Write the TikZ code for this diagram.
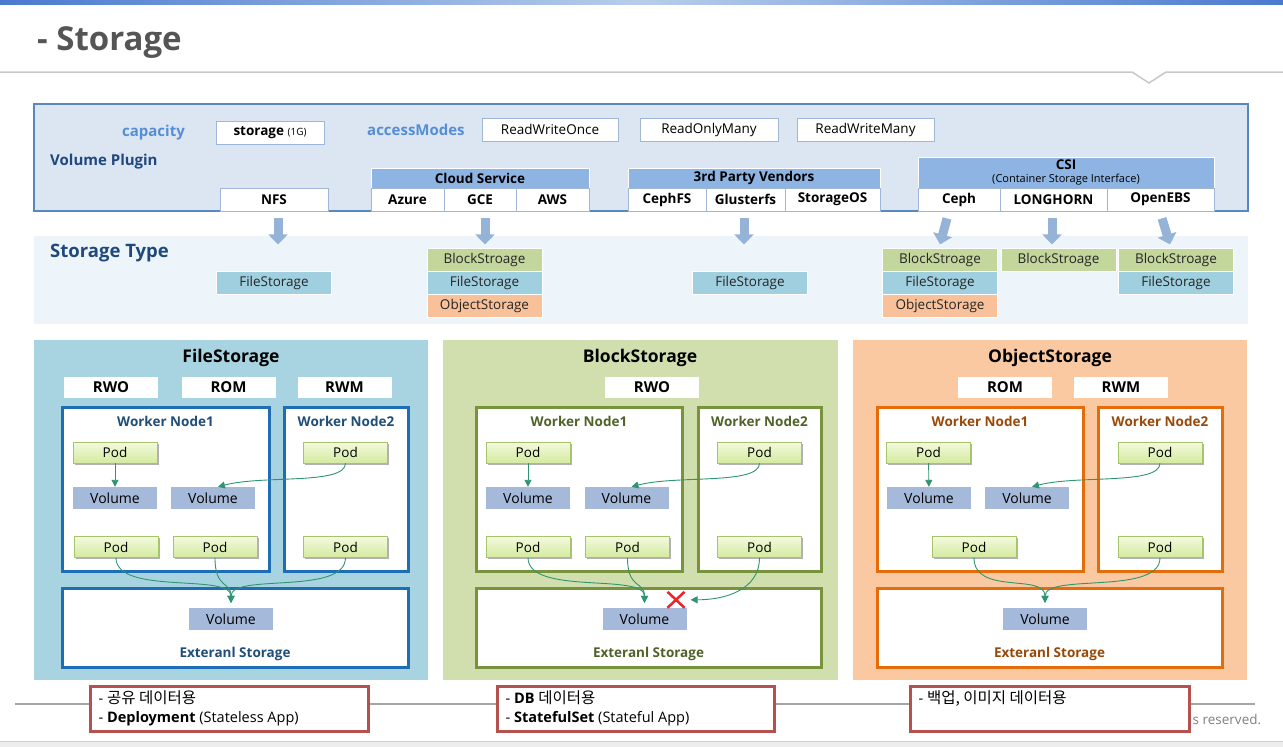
\documentclass[tikz,border=0pt]{standalone}
\usepackage{fontspec}
\setmainfont{Open Sans}
\newfontfamily\krfont{Noto Sans CJK KR}
\usetikzlibrary{arrows.meta,shadows}

\definecolor{barblue}{HTML}{4A7ACF}
\definecolor{barlight}{HTML}{B8CDEB}
\definecolor{titlegray}{HTML}{555555}
\definecolor{rulegray}{HTML}{C8C8C8}
\definecolor{plugfill}{HTML}{DCE6F2}
\definecolor{plugline}{HTML}{5B87C0}
\definecolor{lblblue}{HTML}{558ED5}
\definecolor{dkblue}{HTML}{1F497D}
\definecolor{hdrfill}{HTML}{8EB4E3}
\definecolor{cellline}{HTML}{9FB7D5}
\definecolor{typefill}{HTML}{EEF5FA}
\definecolor{arrowblue}{HTML}{95B3D7}
\definecolor{tgreen}{HTML}{C3D69B}
\definecolor{tblue}{HTML}{A0D0E0}
\definecolor{torange}{HTML}{F9C19A}
\definecolor{filepanel}{HTML}{A8D4E2}
\definecolor{fileline}{HTML}{1F6DB5}
\definecolor{filetext}{HTML}{1F4E79}
\definecolor{blockpanel}{HTML}{D1DFAF}
\definecolor{blockline}{HTML}{77933C}
\definecolor{blocktext}{HTML}{4F6228}
\definecolor{objpanel}{HTML}{FAC9A2}
\definecolor{objline}{HTML}{E46C0A}
\definecolor{objtext}{HTML}{984807}
\definecolor{volfill}{HTML}{A5B9DA}
\definecolor{podtop}{HTML}{F3FADF}
\definecolor{podbot}{HTML}{D4EA9E}
\definecolor{podline}{HTML}{A6C46A}
\definecolor{linkgreen}{HTML}{2F9470}
\definecolor{noteline}{HTML}{B5524F}
\definecolor{footgray}{HTML}{A6A6A6}
\definecolor{foottext}{HTML}{7F7F7F}
\definecolor{footfill}{HTML}{EDEDED}
\definecolor{footline}{HTML}{D0D0D0}
\definecolor{xred}{HTML}{E8262A}

\newcommand\cellfont{\fontsize{13.5}{16}\selectfont}
\newcommand\kr[1]{{\krfont\fontsize{15.5}{19}\selectfont #1}}

\tikzset{
    cell/.style={draw=cellline, fill=white, line width=0.8, inner sep=0pt, minimum height=23, font=\cellfont},
    pcell/.style={cell, font=\cellfont\bfseries},
    hdr/.style={fill=hdrfill, draw=white, line width=0.8, inner sep=0pt, minimum height=20, font=\cellfont\bfseries},
    lbl/.style={inner sep=0pt, font=\fontsize{15}{18}\selectfont\bfseries},
    stbox/.style={draw=white, line width=0.8, inner sep=0pt, minimum width=115, minimum height=23, font=\cellfont, text=black!85},
    bigarrow/.style={draw=arrowblue, line width=9, -{Triangle[width=19pt,length=10pt]}},
    ptitle/.style={inner sep=0pt, font=\fontsize{17.5}{20}\selectfont\bfseries},
    mode/.style={fill=white, inner sep=0pt, minimum width=94, minimum height=21, font=\fontsize{15}{18}\selectfont\bfseries},
    wn/.style={fill=white, line width=3, inner sep=0pt, minimum height=164},
    wt/.style={inner sep=0pt, font=\fontsize{13.5}{16}\selectfont\bfseries},
    pod/.style={draw=podline, top color=podtop, bottom color=podbot, inner sep=0pt, minimum width=84, minimum height=21, font=\cellfont,
        drop shadow={shadow xshift=1.5pt, shadow yshift=-1.5pt, opacity=0.3, fill=black}},
    vol/.style={fill=volfill, inner sep=0pt, minimum width=84, minimum height=22, font=\fontsize{14}{16}\selectfont},
    link/.style={draw=linkgreen, line width=0.9, -{Triangle[length=7pt,width=7pt]}},
    xmark/.style={draw=xred, line width=2.5},
    note/.style={draw=noteline, fill=white, line width=3, inner sep=0pt, minimum height=45},
    notetext/.style={inner sep=0pt, align=left, font=\fontsize{14.5}{19}\selectfont}
}

\begin{document}
\begin{tikzpicture}[x=1pt,y=-1pt]
    \useasboundingbox (0,0) rectangle (1283,747);
    \shade[left color=barblue, right color=barblue, middle color=barlight] (0,0) rectangle (1283,4);
    \node[anchor=base west, inner sep=0pt, font=\fontsize{33}{37}\selectfont\bfseries, text=titlegray] (title) at (37,50) {- Storage};
    \draw[line width=1.5, draw=rulegray] (0,72) -- (1132,72) -- (1149,83) -- (1166,72) -- (1283,72);

    % volume plugin
    \draw[fill=plugfill, draw=plugline, line width=1.2] (34,104) rectangle (1248,211);
    \node[lbl, text=lblblue, anchor=east] (cap) at (185,133) {capacity};
    \node[cell, minimum width=108] (size) at (270,132.5) {\textbf{storage} {\fontsize{10}{12}\selectfont(1G)}};
    \node[lbl, text=lblblue, anchor=west] (acc) at (367,130) {accessModes};
    \foreach \t/\x/\w [count=\i] in {ReadWriteOnce/550/136, ReadOnlyMany/709/138, ReadWriteMany/865.5/137}
        \node[cell, minimum width=\w] (am\i) at (\x,129.5) {\t};
    \node[lbl, text=dkblue, anchor=west] (vp) at (50,162) {Volume Plugin};
    \node[pcell, minimum width=108] (nfs) at (274,199.5) {NFS};
    \node[hdr, minimum width=218] (cloud) at (480,178) {Cloud Service};
    \foreach \t/\x/\w [count=\i] in {Azure/407.5/73, GCE/480/72, AWS/552.5/73}
        \node[pcell, minimum width=\w] (cs\i) at (\x,199.5) {\t};
    \node[hdr, minimum width=252] (vendor) at (754,178) {3rd Party Vendors};
    \foreach \t/\x/\w [count=\i] in {CephFS/667/78, Glusterfs/745.5/79, StorageOS/832.5/95}
        \node[pcell, minimum width=\w] (tp\i) at (\x,199.5) {\t};
    \node[hdr, minimum width=296, minimum height=31, align=center] (csi) at (1066,172.5)
        {CSI\\[-3pt]\fontsize{11}{12}\selectfont\mdseries (Container Storage Interface)};
    \foreach \t/\x/\w [count=\i] in {Ceph/959/82, LONGHORN/1053.5/107, OpenEBS/1160.5/107}
        \node[pcell, minimum width=\w] (csi\i) at (\x,199.5) {\t};

    % storage type
    \fill[typefill] (34,236) rectangle (1248,324);
    \node[anchor=west, inner sep=0pt, font=\fontsize{18.5}{21}\selectfont\bfseries, text=dkblue] (stype) at (50,253) {Storage Type};
    \foreach \x/\y/\t/\c [count=\i] in {274/283/FileStorage/tblue, 484.5/260/BlockStroage/tgreen, 484.5/283/FileStorage/tblue,
        484.5/306/ObjectStorage/torange, 750/283/FileStorage/tblue, 940/260/BlockStroage/tgreen, 940/283/FileStorage/tblue,
        940/306/ObjectStorage/torange, 1058.5/260/BlockStroage/tgreen, 1176/260/BlockStroage/tgreen, 1176/283/FileStorage/tblue}
        \node[stbox, fill=\c] (st\i) at (\x,\y) {\t};
    \foreach \n/\a/\b in {nfs/4/4, cs2/5/5, tp2/-1.5/-1.5, csi1/-12/-19, csi2/-1.5/-1.5, csi3/1.5/9.5}
        \draw[bigarrow] ([xshift=\a,yshift=-7]\n.south) -- ([xshift=\b,yshift=-33]\n.south);

    % file storage
    \fill[filepanel] (34,340) rectangle (428,680);
    \node[ptitle] (ft) at (231,357.5) {FileStorage};
    \foreach \t/\x [count=\i] in {RWO/111, ROM/228.5, RWM/344.5}
        \node[mode] (fm\i) at (\x,387.5) {\t};
    \node[wn, draw=fileline, minimum width=207] (fw1) at (165.5,489) {};
    \node[wn, draw=fileline, minimum width=124] (fw2) at (346,489) {};
    \node[wt, text=filetext] (fw1t) at (165.5,421) {Worker Node1};
    \node[wt, text=filetext] (fw2t) at (346,421) {Worker Node2};
    \node[pod] (fp1) at (115,452.5) {Pod};
    \node[pod] (fp2) at (345.5,452.5) {Pod};
    \node[vol] (fv1) at (115,498) {Volume};
    \node[vol] (fv2) at (213,498) {Volume};
    \node[pod] (fp3) at (116,547) {Pod};
    \node[pod] (fp4) at (215,547) {Pod};
    \node[pod] (fp5) at (345.5,547) {Pod};
    \node[wn, draw=fileline, minimum width=346, minimum height=79] (fx) at (235,627.5) {};
    \node[vol] (fev) at (231,619) {Volume};
    \node[wt, text=filetext] (fxt) at (235,654) {Exteranl Storage};
    \draw[link] (fp1) -- (fv1);
    \draw[link] (fp2.south) .. controls +(0,22) and +(45,-12) .. ([xshift=5]fv2.north);
    \draw[link] (fp3.south) .. controls +(0,38) and +(0,-30) .. ([yshift=5]fev.north);
    \draw[link] (fp4.south) .. controls +(0,32) and +(0,-22) .. ([yshift=5]fev.north);
    \draw[link] (fp5.south) .. controls +(0,38) and +(0,-30) .. ([yshift=5]fev.north);

    % block storage
    \fill[blockpanel] (443,340) rectangle (838,680);
    \node[ptitle] (bt) at (640,357.5) {BlockStorage};
    \node[mode] (bm1) at (652,387.5) {RWO};
    \node[wn, draw=blockline, minimum width=206] (bw1) at (579,489) {};
    \node[wn, draw=blockline, minimum width=123] (bw2) at (759.5,489) {};
    \node[wt, text=blocktext] (bw1t) at (579,421) {Worker Node1};
    \node[wt, text=blocktext] (bw2t) at (759.5,421) {Worker Node2};
    \node[pod] (bp1) at (528,452.5) {Pod};
    \node[pod] (bp2) at (759.5,452.5) {Pod};
    \node[vol] (bv1) at (528,498) {Volume};
    \node[vol] (bv2) at (626.5,498) {Volume};
    \node[pod] (bp3) at (528,547) {Pod};
    \node[pod] (bp4) at (627.5,547) {Pod};
    \node[pod] (bp5) at (759.5,547) {Pod};
    \node[wn, draw=blockline, minimum width=345, minimum height=79] (bx) at (648.5,627.5) {};
    \node[vol] (bev) at (644.5,619) {Volume};
    \node[wt, text=blocktext] (bxt) at (648.5,654) {Exteranl Storage};
    \draw[link] (bp1) -- (bv1);
    \draw[link] (bp2.south) .. controls +(0,22) and +(45,-12) .. ([xshift=5]bv2.north);
    \draw[link] (bp3.south) .. controls +(0,38) and +(0,-30) .. ([yshift=5]bev.north);
    \draw[link] (bp4.south) .. controls +(0,32) and +(0,-22) .. ([yshift=5]bev.north);
    \draw[link] (bp5.south) .. controls +(0,32) and +(35,0) .. ([xshift=46,yshift=8]bev.north);
    \coordinate (cross) at ([xshift=31.5,yshift=8]bev.north);
    \draw[xmark] ([shift={(-8.5,-8)}]cross) -- ([shift={(8.5,8)}]cross) ([shift={(-8.5,8)}]cross) -- ([shift={(8.5,-8)}]cross);

    % object storage
    \fill[objpanel] (853,340) rectangle (1247,680);
    \node[ptitle] (ot) at (1050,357.5) {ObjectStorage};
    \foreach \t/\x [count=\i] in {ROM/1005, RWM/1121}
        \node[mode] (om\i) at (\x,387.5) {\t};
    \node[wn, draw=objline, minimum width=206] (ow1) at (980,489) {};
    \node[wn, draw=objline, minimum width=124] (ow2) at (1160,489) {};
    \node[wt, text=objtext] (ow1t) at (980,421) {Worker Node1};
    \node[wt, text=objtext] (ow2t) at (1160,421) {Worker Node2};
    \node[pod] (op1) at (928.5,452.5) {Pod};
    \node[pod] (op2) at (1160,452.5) {Pod};
    \node[vol] (ov1) at (929,498) {Volume};
    \node[vol] (ov2) at (1027,498) {Volume};
    \node[pod] (op3) at (974,547) {Pod};
    \node[pod] (op4) at (1160,547) {Pod};
    \node[wn, draw=objline, minimum width=345, minimum height=79] (ox) at (1049.5,627.5) {};
    \node[vol] (oev) at (1045,619) {Volume};
    \node[wt, text=objtext] (oxt) at (1049.5,654) {Exteranl Storage};
    \draw[link] (op1) -- (ov1);
    \draw[link] (op2.south) .. controls +(0,22) and +(45,-12) .. ([xshift=5]ov2.north);
    \draw[link] (op3.south) .. controls +(0,38) and +(0,-30) .. ([yshift=5]oev.north);
    \draw[link] (op4.south) .. controls +(0,38) and +(0,-30) .. ([yshift=5]oev.north);

    % footer
    \draw[line width=2, draw=footgray] (15,704) -- (1255,704);
    \fill[footfill] (0,741) rectangle (1283,747);
    \draw[footline] (0,741) -- (1283,741);
    \node[note, minimum width=278] (nb1) at (229,708.5) {};
    \node[note, minimum width=277] (nb2) at (635.5,708.5) {};
    \node[note, minimum width=279] (nb3) at (1049.5,708.5) {};
    \node[anchor=west, inner sep=0pt, text=foottext, font=\fontsize{13.5}{16}\selectfont] (rights) at ([xshift=2,yshift=-11]nb3.east) {s reserved.};
    \node[notetext, anchor=north west] (nt1) at ([xshift=10,yshift=-6]nb1.north west)
        {- \kr{공유 데이터용}\\- \textbf{Deployment} (Stateless App)};
    \node[notetext, anchor=north west] (nt2) at ([xshift=10,yshift=-6]nb2.north west)
        {- \textbf{DB} \kr{데이터용}\\- \textbf{StatefulSet} (Stateful App)};
    \node[notetext, anchor=north west] (nt3) at ([xshift=10,yshift=-6]nb3.north west)
        {- \kr{백업, 이미지 데이터용}};
\end{tikzpicture}
\end{document}
